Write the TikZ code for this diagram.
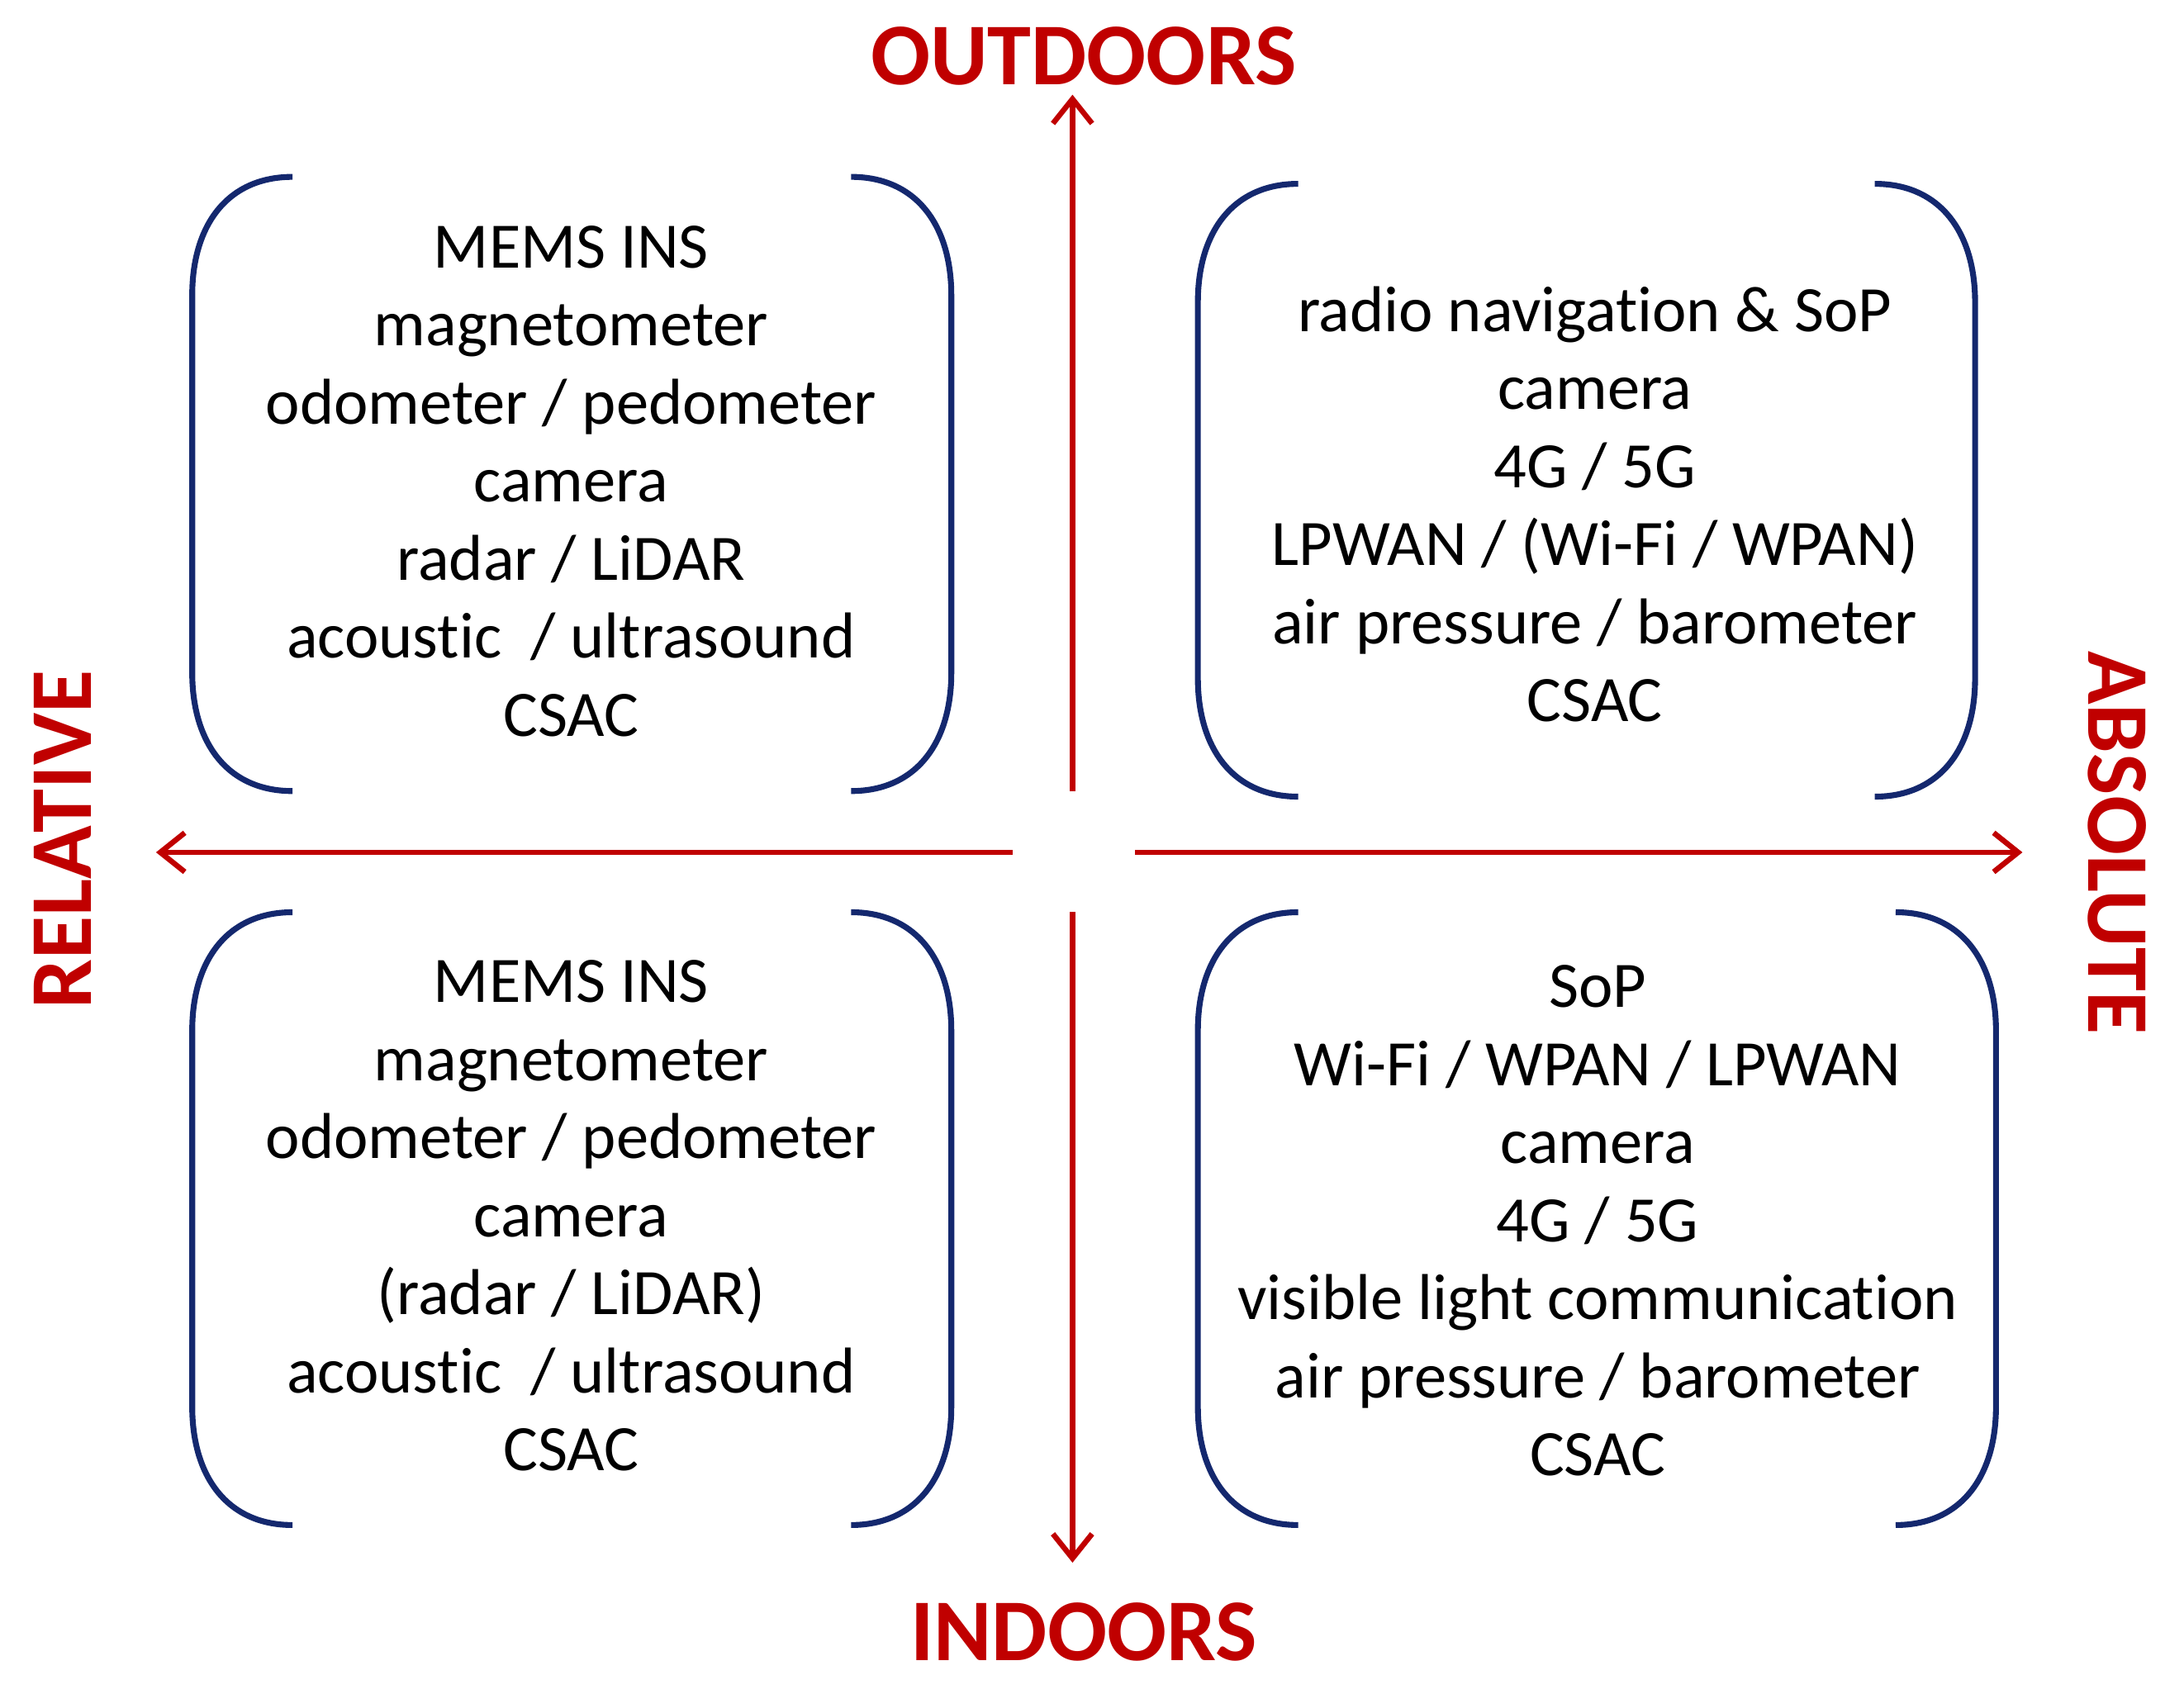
\documentclass[tikz,border=0pt]{standalone}
\usepackage{fontspec}
\setmainfont{Carlito}[Ligatures={NoCommon,NoContextual}]
\usetikzlibrary{arrows.meta}
\definecolor{navy}{RGB}{20,40,110}
\definecolor{axred}{RGB}{192,0,0}
\tikzset{
 brk/.style={draw=navy,line width=2.4pt},
 ax/.style={draw=axred,line width=2.2pt,-{Straight Barb[length=10pt,width=16pt,line width=2.2pt]}},
 lbl/.style={text=axred,font=\fontsize{36}{40}\selectfont\bfseries},
 txt/.style={align=center,font=\fontsize{26.5}{31.9}\selectfont,text=black}
}
\newcommand{\brackets}[4]{% x1 x2 ytop ybot (px, y downward)
 \draw[brk] (#1+72,#3) .. controls (#1+25,#3) and (#1,#3+35) .. (#1,#3+85) -- (#1,#4-85) .. controls (#1,#4-35) and (#1+25,#4) .. (#1+72,#4);
 \draw[brk] (#2-72,#3) .. controls (#2-25,#3) and (#2,#3+35) .. (#2,#3+85) -- (#2,#4-85) .. controls (#2,#4-35) and (#2-25,#4) .. (#2-72,#4);}
\begin{document}
\begin{tikzpicture}[x=0.02cm,y=-0.02cm]
\useasboundingbox (0,0) rectangle (1568,1216);
\brackets{138}{683}{127}{568}
\brackets{860}{1418}{132}{572}
\brackets{138}{683}{655}{1095}
\brackets{860}{1433}{655}{1095}
\node[txt] (tl) at (410,345.5) {MEMS INS\\magnetometer\\odometer / pedometer\\camera\\radar / LiDAR\\acoustic \ / ultrasound\\CSAC};
\node[txt] (tr) at (1145,362) {radio navigation \& SoP\\camera\\4G / 5G\\LPWAN / (Wi-Fi / WPAN)\\air pressure / barometer\\CSAC};
\node[txt] (bl) at (410,873) {MEMS INS\\magnetometer\\odometer / pedometer\\camera\\(radar / LiDAR)\\acoustic \ / ultrasound\\CSAC};
\node[txt] (br) at (1147,876.5) {SoP\\Wi-Fi / WPAN / LPWAN\\camera\\4G / 5G\\visible light communication\\air pressure / barometer\\CSAC};
\coordinate (c1) at (770,568); \coordinate (e1) at (770,68);
\coordinate (c2) at (770,655); \coordinate (e2) at (770,1122);
\coordinate (c3) at (727,612); \coordinate (e3) at (112,612);
\coordinate (c4) at (815,612); \coordinate (e4) at (1452,612);
\draw[ax] (c1) -- (e1);
\draw[ax] (c2) -- (e2);
\draw[ax] (c3) -- (e3);
\draw[ax] (c4) -- (e4);
\node[lbl] (out) at (778,40) {OUTDOORS};
\node[lbl] (in) at (778,1172) {INDOORS};
\node[lbl,rotate=90] (rel) at (45,603) {RELATIVE};
\node[lbl,rotate=-90] (abs) at (1520,605) {ABSOLUTE};
\end{tikzpicture}
\end{document}
